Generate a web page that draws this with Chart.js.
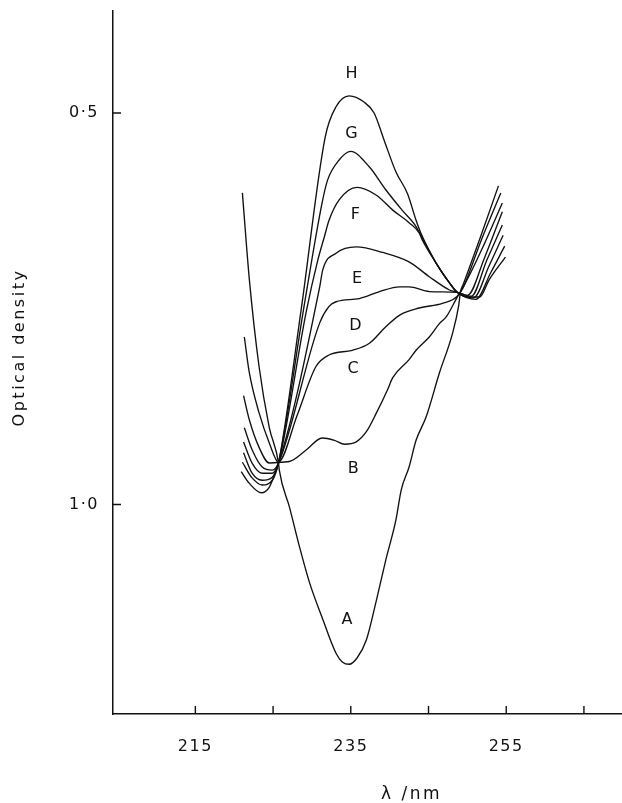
<!DOCTYPE html>
<html lang="en">
<head>
<meta charset="UTF-8">
<title>Optical density spectra</title>
<script src="https://cdn.jsdelivr.net/npm/chart.js"></script>
<style>
  html, body { margin: 0; padding: 0; background: #fff; }
  canvas { display: block; }
</style>
</head>
<body>
<canvas id="myChart" width="622" height="803"></canvas>
<script>
// traces: [wavelength nm, optical density]
const curveA = [[221.05,0.602],[221.95,0.713],[223.2,0.824],[224.5,0.901],[225.7,0.947],
  [225.8,0.956],[227.1,1.003],[228.4,1.054],[229.7,1.100],[231.3,1.144],[233.1,1.190],[233.9,1.201],
  [234.8,1.204],[235.8,1.196],[237.0,1.173],[238.3,1.122],[239.5,1.071],[240.8,1.020],[241.5,0.981],
  [242.5,0.952],[243.4,0.918],[244.7,0.888],[246.4,0.832],[248.1,0.781],[248.9,0.745],[249.1,0.729],
  [249.5,0.718],[251.7,0.658],[254.0,0.593]];
const curveB = [[221.3,0.786],[221.95,0.832],[223.2,0.883],[224.5,0.921],[225.7,0.946],
  [227.1,0.945],[229.3,0.930],[231.3,0.915],[232.9,0.918],[234.2,0.923],[235.7,0.920],[237.0,0.907],
  [238.3,0.883],[239.7,0.854],[240.4,0.838],[242.5,0.815],[243.4,0.803],[245.1,0.786],[246.4,0.769],
  [247.3,0.760],[248.7,0.735],[249.5,0.722],[251.8,0.662],[254.3,0.602]];
const curveC = [[221.2,0.861],[221.95,0.892],[223.2,0.927],[224.5,0.947],[225.7,0.946],
  [228.1,0.886],[230.5,0.824],[232.2,0.809],[235.2,0.803],[237.4,0.794],[239.5,0.773],[241.3,0.758],
  [243.8,0.749],[246.8,0.743],[248.7,0.734],[249.7,0.718],[252.1,0.669],[254.5,0.615]];
const curveD = [[221.3,0.902],[222.3,0.930],[223.6,0.952],[224.9,0.956],[225.7,0.947],
  [231.0,0.768],[232.2,0.747],[233.1,0.741],[236.1,0.737],[238.7,0.728],[241.3,0.722],[242.5,0.722],
  [245.1,0.728],[248.7,0.729],[250.0,0.733],[252.2,0.685],[254.5,0.626]];
const curveE = [[221.2,0.920],[222.3,0.947],[223.6,0.960],[224.9,0.960],[225.7,0.947],
  [231.0,0.722],[231.4,0.700],[233.1,0.679],[235.7,0.671],[239.1,0.678],[242.5,0.690],[245.1,0.709],
  [247.7,0.726],[248.7,0.729],[250.5,0.734],[252.5,0.688],[254.5,0.643]];
const curveF = [[221.2,0.934],[222.3,0.960],[223.6,0.969],[224.9,0.965],[225.7,0.947],
  [229.3,0.752],[230.7,0.690],[231.6,0.658],[232.2,0.637],[233.5,0.611],[235.8,0.595],[238.3,0.605],
  [240.4,0.624],[242.5,0.640],[243.8,0.653],[244.2,0.662],[246.0,0.692],[247.7,0.717],[248.7,0.729],
  [250.8,0.736],[252.8,0.695],[254.6,0.656]];
const curveG = [[221.05,0.946],[222.3,0.966],[223.6,0.975],[224.9,0.969],[225.7,0.947],
  [228.9,0.752],[231.3,0.615],[232.0,0.586],[233.5,0.560],[235.0,0.549],[237.4,0.569],[239.5,0.598],
  [241.6,0.624],[243.4,0.645],[244.0,0.656],[246.0,0.692],[247.7,0.717],[248.7,0.729],[251.1,0.738],
  [253.0,0.704],[254.8,0.670]];
const curveH = [[220.9,0.958],[221.95,0.973],[223.5,0.985],[224.5,0.978],[225.4,0.956],[225.7,0.947],
  [228.6,0.752],[231.7,0.531],[233.1,0.492],[234.8,0.478],[236.7,0.486],[238.0,0.500],[239.3,0.535],
  [240.8,0.575],[242.3,0.603],[243.4,0.637],[244.0,0.653],[246.0,0.692],[247.7,0.717],[248.7,0.729],
  [250.3,0.735],[251.6,0.735],[252.8,0.713],[254.9,0.684]];

const curves = [curveA, curveB, curveC, curveD, curveE, curveF, curveG, curveH];
const curveNames = ['A', 'B', 'C', 'D', 'E', 'F', 'G', 'H'];
// where the letters sit (nm, OD)
const labelX = [234.5, 235.3, 235.3, 235.6, 235.8, 235.6, 235.1, 235.1];
const labelY = [1.147, 0.955, 0.827, 0.772, 0.712, 0.630, 0.526, 0.450];

const xTicks = [215, 225, 235, 245, 255, 265];
const xLabelled = [215, 235, 255];
const yTicks = [0.5, 1.0];

const ink = '#111';
const fontFamily = '"DejaVu Sans", sans-serif';

// inward tick marks, curve letters and axis titles
const extras = {
    id: 'extras',
    beforeDraw(chart) {
        chart.ctx.letterSpacing = '1.5px';
    },
    afterDraw(chart) {
        const ctx = chart.ctx;
        const xs = chart.scales.x, ys = chart.scales.y, area = chart.chartArea;
        ctx.save();
        ctx.strokeStyle = ink;
        ctx.lineWidth = 1.4;
        ctx.beginPath();
        xTicks.forEach(v => {
            const px = xs.getPixelForValue(v);
            ctx.moveTo(px, area.bottom);
            ctx.lineTo(px, area.bottom - 8);
        });
        yTicks.forEach(v => {
            const py = ys.getPixelForValue(v);
            ctx.moveTo(area.left, py);
            ctx.lineTo(area.left + 8, py);
        });
        ctx.stroke();

        ctx.fillStyle = ink;
        ctx.font = '16px ' + fontFamily;
        ctx.textAlign = 'center';
        ctx.textBaseline = 'middle';
        ctx.letterSpacing = '0px';
        curveNames.forEach((n, i) => {
            ctx.fillText(n, xs.getPixelForValue(labelX[i]), ys.getPixelForValue(labelY[i]));
        });

        ctx.font = '17px ' + fontFamily;
        ctx.letterSpacing = '2.5px';
        ctx.fillText('λ /nm', (area.left + area.right) / 2 + 44, 795);
        ctx.font = '16px ' + fontFamily;
        ctx.translate(20, (area.top + area.bottom) / 2 - 15);
        ctx.rotate(-Math.PI / 2);
        ctx.fillText('Optical density', 0, 0);
        ctx.restore();
    }
};

var ctx = document.getElementById('myChart').getContext('2d');
var myChart = new Chart(ctx, {
    type: 'scatter',
    data: {
        datasets: curves.map((c, i) => ({
            label: curveNames[i],
            data: c.map(p => ({ x: p[0], y: p[1] })),
            showLine: true,
            borderColor: ink,
            borderWidth: 1.35,
            pointRadius: 0,
            cubicInterpolationMode: 'monotone',
            fill: false
        }))
    },
    options: {
        responsive: false,
        animation: false,
        layout: { padding: { top: 11, right: 0, left: 0, bottom: 0 } },
        plugins: {
            legend: { display: false },
            tooltip: { enabled: false }
        },
        scales: {
            x: {
                type: 'linear',
                min: 204.4,
                max: 269.9,
                afterFit: s => { s.height = 89; s.paddingLeft = 0; s.paddingRight = 0; },
                afterBuildTicks: s => { s.ticks = xTicks.map(v => ({ value: v })); },
                grid: { display: false, drawTicks: false },
                border: { display: true, color: ink, width: 1.5 },
                ticks: {
                    padding: 23,
                    color: ink,
                    autoSkip: false,
                    maxRotation: 0,
                    font: { family: fontFamily, size: 16 },
                    callback: v => xLabelled.includes(v) ? String(v) : ''
                }
            },
            y: {
                type: 'linear',
                reverse: true,
                min: 0.3697,
                max: 1.2675,
                afterFit: s => { s.width = 113; s.paddingTop = 0; s.paddingBottom = 0; },
                afterBuildTicks: s => { s.ticks = yTicks.map(v => ({ value: v })); },
                grid: { display: false, drawTicks: false },
                border: { display: true, color: ink, width: 1.5 },
                ticks: {
                    padding: 14,
                    color: ink,
                    font: { family: fontFamily, size: 16 },
                    callback: v => v.toFixed(1).replace('.', '·')
                }
            }
        }
    },
    plugins: [extras]
});
</script>
</body>
</html>
